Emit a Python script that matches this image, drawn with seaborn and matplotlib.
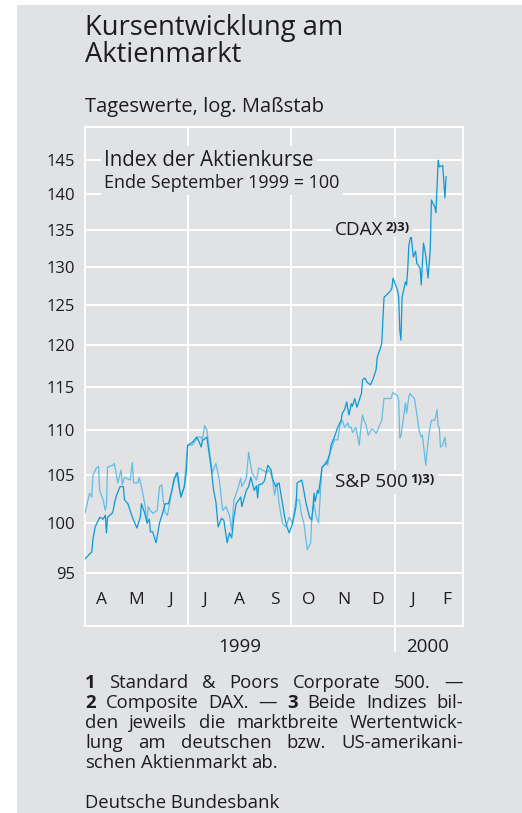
import numpy as np
import pandas as pd
import matplotlib
matplotlib.use('Agg')
import matplotlib.pyplot as plt
import matplotlib.dates as mdates
from matplotlib.patches import Rectangle
from matplotlib.ticker import FixedLocator, NullLocator, FuncFormatter
import seaborn as sns

# ------------------------------------------------------------
# DATA
# ------------------------------------------------------------
cdax_dates = [
    '1999-04-01', '1999-04-07', '1999-04-08', '1999-04-10', '1999-04-12', '1999-04-14',
    '1999-04-17', '1999-04-19', '1999-04-20', '1999-04-21', '1999-04-25', '1999-04-26',
    '1999-04-27', '1999-04-29', '1999-05-02', '1999-05-05', '1999-05-06', '1999-05-09',
    '1999-05-11', '1999-05-13', '1999-05-17', '1999-05-20', '1999-05-21', '1999-05-24',
    '1999-05-26', '1999-05-28', '1999-05-29', '1999-05-31', '1999-06-03', '1999-06-06',
    '1999-06-09', '1999-06-11', '1999-06-14', '1999-06-17', '1999-06-19', '1999-06-22',
    '1999-06-24', '1999-06-25', '1999-06-28', '1999-06-30', '1999-07-01', '1999-07-05',
    '1999-07-09', '1999-07-11', '1999-07-13', '1999-07-14', '1999-07-18', '1999-07-22',
    '1999-07-24', '1999-07-26', '1999-07-28', '1999-07-31', '1999-08-02', '1999-08-05',
    '1999-08-07', '1999-08-09', '1999-08-11', '1999-08-13', '1999-08-17', '1999-08-18',
    '1999-08-22', '1999-08-24', '1999-08-26', '1999-08-29', '1999-08-31', '1999-09-01',
    '1999-09-02', '1999-09-05', '1999-09-07', '1999-09-10', '1999-09-13', '1999-09-14',
    '1999-09-17', '1999-09-20', '1999-09-23', '1999-09-25', '1999-09-27', '1999-09-29',
    '1999-10-02', '1999-10-05', '1999-10-06', '1999-10-10', '1999-10-11', '1999-10-14',
    '1999-10-17', '1999-10-19', '1999-10-21', '1999-10-22', '1999-10-24', '1999-10-25',
    '1999-10-27', '1999-10-28', '1999-11-01', '1999-11-04', '1999-11-05', '1999-11-08',
    '1999-11-11', '1999-11-14', '1999-11-15', '1999-11-17', '1999-11-19', '1999-11-20',
    '1999-11-21', '1999-11-23', '1999-11-24', '1999-11-26', '1999-11-28', '1999-12-02',
    '1999-12-03', '1999-12-05', '1999-12-07', '1999-12-10', '1999-12-12', '1999-12-15',
    '1999-12-16', '1999-12-19', '1999-12-20', '1999-12-22', '1999-12-27', '1999-12-29',
    '1999-12-30', '2000-01-03', '2000-01-04', '2000-01-05', '2000-01-06', '2000-01-07',
    '2000-01-10', '2000-01-11', '2000-01-12', '2000-01-13', '2000-01-15', '2000-01-17',
    '2000-01-19', '2000-01-20', '2000-01-23', '2000-01-24', '2000-01-26', '2000-01-28',
    '2000-01-30', '2000-02-01', '2000-02-02', '2000-02-05', '2000-02-06', '2000-02-08',
    '2000-02-09', '2000-02-12', '2000-02-14', '2000-02-15',
]
cdax_values = [
    96.4, 97.1, 98.3, 99.6, 100.1, 100.6,
    100.4, 100.8, 99.0, 100.6, 101.0, 101.3,
    102.0, 102.9, 103.8, 103.8, 102.4, 102.0,
    101.3, 100.6, 99.5, 100.6, 102.0, 101.0,
    100.0, 100.4, 99.1, 99.1, 98.0, 100.0,
    101.1, 102.0, 102.0, 103.4, 104.7, 105.3,
    103.4, 102.7, 103.8, 105.6, 108.3, 108.6,
    109.2, 108.7, 108.1, 108.8, 109.2, 105.6,
    103.4, 102.2, 99.6, 100.5, 100.3, 98.0,
    99.0, 98.5, 100.6, 102.0, 102.7, 101.7,
    103.4, 103.8, 104.8, 103.4, 103.9, 102.6,
    104.0, 104.1, 104.4, 106.1, 105.6, 104.7,
    103.8, 104.2, 102.0, 100.6, 99.6, 99.0,
    100.0, 101.7, 104.2, 104.5, 104.0, 102.0,
    100.6, 100.3, 103.1, 102.2, 103.4, 103.1,
    104.8, 105.9, 106.3, 107.4, 108.3, 109.2,
    110.3, 111.1, 111.9, 112.3, 113.2, 112.3,
    111.7, 113.0, 112.7, 113.6, 112.6, 114.2,
    115.8, 116.0, 115.5, 115.2, 115.8, 117.0,
    118.5, 119.7, 120.2, 126.0, 126.7, 127.2,
    128.5, 126.9, 126.0, 121.8, 120.6, 126.0,
    128.0, 127.6, 129.6, 132.9, 134.3, 131.3,
    132.1, 130.5, 129.8, 127.6, 133.2, 131.5,
    128.5, 132.3, 139.2, 138.2, 137.4, 145.0,
    144.0, 144.2, 139.5, 142.6,
]

sp_dates = [
    '1999-04-01', '1999-04-05', '1999-04-07', '1999-04-08', '1999-04-11', '1999-04-13',
    '1999-04-14', '1999-04-17', '1999-04-19', '1999-04-20', '1999-04-21', '1999-04-26',
    '1999-04-27', '1999-04-30', '1999-05-03', '1999-05-04', '1999-05-06', '1999-05-11',
    '1999-05-13', '1999-05-14', '1999-05-18', '1999-05-19', '1999-05-21', '1999-05-24',
    '1999-05-26', '1999-05-27', '1999-05-29', '1999-05-31', '1999-06-04', '1999-06-06',
    '1999-06-08', '1999-06-09', '1999-06-11', '1999-06-13', '1999-06-15', '1999-06-17',
    '1999-06-21', '1999-06-25', '1999-06-28', '1999-06-30', '1999-07-01', '1999-07-05',
    '1999-07-10', '1999-07-13', '1999-07-14', '1999-07-16', '1999-07-18', '1999-07-21',
    '1999-07-23', '1999-07-26', '1999-07-29', '1999-08-01', '1999-08-04', '1999-08-07',
    '1999-08-09', '1999-08-11', '1999-08-14', '1999-08-17', '1999-08-18', '1999-08-22',
    '1999-08-24', '1999-08-27', '1999-08-31', '1999-09-02', '1999-09-05', '1999-09-09',
    '1999-09-11', '1999-09-14', '1999-09-16', '1999-09-18', '1999-09-20', '1999-09-23',
    '1999-09-26', '1999-09-29', '1999-10-02', '1999-10-05', '1999-10-08', '1999-10-10',
    '1999-10-12', '1999-10-15', '1999-10-18', '1999-10-19', '1999-10-21', '1999-10-23',
    '1999-10-25', '1999-10-27', '1999-10-28', '1999-11-01', '1999-11-02', '1999-11-04',
    '1999-11-06', '1999-11-08', '1999-11-11', '1999-11-13', '1999-11-15', '1999-11-17',
    '1999-11-20', '1999-11-21', '1999-11-23', '1999-11-24', '1999-11-27', '1999-11-30',
    '1999-12-02', '1999-12-03', '1999-12-04', '1999-12-06', '1999-12-08', '1999-12-11',
    '1999-12-13', '1999-12-15', '1999-12-18', '1999-12-20', '1999-12-22', '1999-12-25',
    '1999-12-28', '1999-12-30', '2000-01-03', '2000-01-04', '2000-01-05', '2000-01-06',
    '2000-01-09', '2000-01-10', '2000-01-11', '2000-01-13', '2000-01-14', '2000-01-15',
    '2000-01-18', '2000-01-20', '2000-01-22', '2000-01-24', '2000-01-25', '2000-01-28',
    '2000-01-29', '2000-01-31', '2000-02-02', '2000-02-05', '2000-02-07', '2000-02-08',
    '2000-02-09', '2000-02-10', '2000-02-12', '2000-02-14', '2000-02-15',
]
sp_values = [
    101.0, 103.1, 102.7, 105.0, 105.8, 106.0,
    103.4, 102.4, 101.3, 101.9, 105.9, 106.1,
    106.3, 104.2, 105.6, 104.0, 104.8, 104.5,
    106.4, 104.2, 104.2, 104.8, 103.8, 102.0,
    100.0, 101.7, 101.3, 101.0, 101.3, 103.8,
    104.0, 102.7, 101.1, 100.8, 102.0, 103.4,
    105.3, 102.7, 103.8, 107.0, 108.3, 108.3,
    109.2, 109.2, 108.8, 110.5, 110.0, 107.0,
    105.3, 106.3, 104.5, 101.3, 101.7, 100.8,
    99.3, 102.4, 103.4, 104.7, 103.8, 104.7,
    107.5, 105.3, 104.5, 105.8, 105.6, 105.3,
    105.6, 104.8, 102.9, 104.2, 102.0, 100.0,
    99.6, 100.6, 100.0, 102.4, 102.4, 100.8,
    100.0, 97.3, 98.0, 100.6, 102.0, 100.6,
    100.0, 103.8, 105.8, 106.6, 106.1, 107.4,
    108.1, 108.9, 108.9, 110.5, 111.1, 110.3,
    110.8, 110.3, 110.3, 109.7, 110.3, 108.3,
    110.8, 111.7, 111.2, 110.6, 109.4, 110.1,
    110.0, 109.6, 110.5, 111.1, 113.6, 113.6,
    113.6, 114.3, 113.9, 113.4, 109.1, 109.3,
    112.1, 113.1, 111.9, 113.8, 114.2, 114.0,
    113.6, 111.9, 110.0, 109.2, 109.4, 106.1,
    107.5, 109.7, 111.1, 111.1, 112.3, 110.4,
    110.3, 108.1, 108.3, 109.2, 108.1,
]

y_ticks = [95, 100, 105, 110, 115, 120, 125, 130, 135, 140, 145]
month_labels = ['A', 'M', 'J', 'J', 'A', 'S', 'O', 'N', 'D', 'J', 'F']
quarter_lines = ['1999-07-01', '1999-10-01', '2000-01-01']
x_start, x_end = '1999-04-01', '2000-03-01'

footnotes = [
    '**1** Standard & Poors Corporate 500. —',
    '**2** Composite DAX. — **3** Beide Indizes bil-',
    'den jeweils die marktbreite Wertentwick-',
    'lung am deutschen bzw. US-amerikani-',
    'schen Aktienmarkt ab.',
]

# ------------------------------------------------------------
# STYLE
# ------------------------------------------------------------
BG = '#e1e2e4'
CDAX_COLOR = '#0a9ad6'
SP_COLOR = '#62bde6'
TXT = '#1d1d1f'
W, H = 522, 813

sns.set_style('white')
plt.rcParams['font.family'] = ['Open Sans', 'DejaVu Sans']
plt.rcParams['text.color'] = TXT

fig = plt.figure(figsize=(W / 100, H / 100), dpi=100, facecolor='white')
fig.patches.append(Rectangle((17 / W, 0), 1, (H - 5) / H, transform=fig.transFigure,
                             facecolor=BG, edgecolor='none', zorder=-10))

ax = fig.add_axes([85 / W, (H - 626) / H, (463 - 85) / W, (626 - 127) / H])
ax.set_facecolor(BG)

df_cdax = pd.DataFrame({'date': pd.to_datetime(cdax_dates), 'value': cdax_values})
df_sp = pd.DataFrame({'date': pd.to_datetime(sp_dates), 'value': sp_values})

sns.lineplot(data=df_sp, x='date', y='value', color=SP_COLOR, lw=0.9,
             estimator=None, ax=ax, zorder=3)
sns.lineplot(data=df_cdax, x='date', y='value', color=CDAX_COLOR, lw=0.9,
             estimator=None, ax=ax, zorder=4)

# y axis: log scale
ax.set_yscale('log')
ax.set_ylim(90, 150)
ax.yaxis.set_major_locator(FixedLocator(y_ticks))
ax.yaxis.set_minor_locator(NullLocator())
ax.yaxis.set_major_formatter(FuncFormatter(lambda v, p: f'{v:.0f}'))
ax.tick_params(axis='y', length=0, pad=7, labelsize=12, labelcolor=TXT)
ax.grid(axis='y', color='white', lw=1.4, zorder=1)

# x axis
ax.set_xlim(pd.Timestamp(x_start), pd.Timestamp(x_end))
ax.xaxis.set_major_locator(mdates.MonthLocator())
ax.xaxis.set_minor_locator(mdates.WeekdayLocator(byweekday=mdates.MO))
ax.tick_params(axis='x', which='major', direction='in', length=8, width=1.1,
               color='white', labelbottom=False)
ax.tick_params(axis='x', which='minor', direction='in', length=4, width=1.0,
               color='white')
for q in quarter_lines:
    ax.axvline(pd.Timestamp(q), color='white', lw=1.4, zorder=1)
ax.set_xlabel('')
ax.set_ylabel('')

for s in ax.spines.values():
    s.set_color('white')
    s.set_linewidth(1.4)

# year separator below the axes
jan = mdates.date2num(pd.Timestamp('2000-01-01'))
ax.plot([jan, jan], [0, -0.05], color='white', lw=1.4,
        transform=ax.get_xaxis_transform(), clip_on=False)

# month labels
month_starts = pd.date_range(x_start, periods=len(month_labels), freq='MS')
xt = ax.get_xaxis_transform()
for m, lab in zip(month_starts, month_labels):
    ax.text(m + pd.Timedelta(days=15), 0.052, lab, transform=xt, ha='center',
            va='center', fontsize=12.5, color=TXT)

# year labels
ax.text(pd.Timestamp('1999-08-16'), -0.042, '1999', transform=xt, ha='center',
        va='center', fontsize=13.5, clip_on=False)
ax.text(pd.Timestamp('2000-01-30'), -0.042, '2000', transform=xt, ha='center',
        va='center', fontsize=13.5, clip_on=False)

# in-chart annotations
box = dict(facecolor=BG, edgecolor='none', pad=2.5)
ax.text(19 / 378, (626 - 160) / 499, 'Index der Aktienkurse', transform=ax.transAxes,
        ha='left', va='center', fontsize=14.8, bbox=box, zorder=5)
ax.text(19 / 378, (626 - 183) / 499, 'Ende September 1999 = 100', transform=ax.transAxes,
        ha='left', va='center', fontsize=13, bbox=box, zorder=5)

t_cdax = ax.text((335 - 85) / 378, (626 - 230) / 499, 'CDAX', transform=ax.transAxes,
                 ha='left', va='center', fontsize=13.6, bbox=box, zorder=5)
ax.annotate('2)3)', xy=(1, 1), xycoords=t_cdax, xytext=(1.5, 0), textcoords='offset points',
            ha='left', va='top', fontsize=9.5, fontweight='bold', bbox=box, zorder=5)
t_sp = ax.text((335 - 85) / 378, (626 - 482) / 499, 'S&P 500', transform=ax.transAxes,
               ha='left', va='center', fontsize=13.6, bbox=box, zorder=5)
ax.annotate('1)3)', xy=(1, 1), xycoords=t_sp, xytext=(1.5, 0), textcoords='offset points',
            ha='left', va='top', fontsize=9.5, fontweight='bold', bbox=box, zorder=5)

# titles
fig.text(85 / W, 1 - 14 / H, 'Kursentwicklung am\nAktienmarkt', ha='left', va='top',
         fontsize=19.7, linespacing=0.93)
fig.text(85 / W, 1 - 107 / H, 'Tageswerte, log. Maßstab', ha='left', va='center',
         fontsize=14.5)

# footnotes, justified between the axes edges
renderer = fig.canvas.get_renderer()
FN_SIZE = 13.3
x0, x1 = 85, 463


def word_width(word, bold):
    t = fig.text(0, 0, word, fontsize=FN_SIZE, fontweight='bold' if bold else 'normal')
    w = t.get_window_extent(renderer).width
    t.remove()
    return w


space_w = word_width('a a', False) - word_width('aa', False)

for i, line in enumerate(footnotes):
    y = 1 - (683 + 20 * i) / H
    words = []
    for tok in line.split(' '):
        bold = tok.startswith('**')
        words.append((tok.strip('*'), bold))
    widths = [word_width(w, b) for w, b in words]
    last = i == len(footnotes) - 1
    if last or len(words) < 2:
        gap = space_w
    else:
        gap = (x1 - x0 - sum(widths)) / (len(words) - 1)
    x = x0
    for (w, b), wd in zip(words, widths):
        fig.text(x / W, y, w, ha='left', va='center', fontsize=FN_SIZE,
                 fontweight='bold' if b else 'normal')
        x += wd + gap

fig.text(85 / W, 1 - 803 / H, 'Deutsche Bundesbank', ha='left', va='center',
         fontsize=FN_SIZE)

plt.savefig('out.png', dpi=100, facecolor=fig.get_facecolor())
